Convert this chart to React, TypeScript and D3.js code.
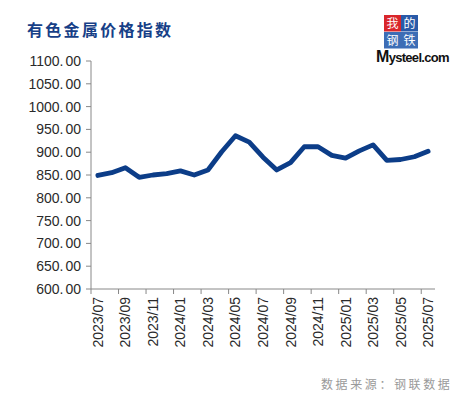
import React from 'react';
import { scaleBand, scaleLinear, line, format } from 'd3';

const months = [
  '2023/07', '2023/08', '2023/09', '2023/10', '2023/11', '2023/12',
  '2024/01', '2024/02', '2024/03', '2024/04', '2024/05', '2024/06',
  '2024/07', '2024/08', '2024/09', '2024/10', '2024/11', '2024/12',
  '2025/01', '2025/02', '2025/03', '2025/04', '2025/05', '2025/06', '2025/07',
];
const indexValues = [
  849, 855, 866, 845, 850, 853, 859, 850, 861, 901, 936, 922,
  889, 861, 877, 912, 912, 893, 887, 903, 916, 882, 884, 890, 902,
];
const yTicks = [600, 650, 700, 750, 800, 850, 900, 950, 1000, 1050, 1100];

const title = '有色金属价格指数';
const source = '数据来源：钢联数据';
const logoChars = ['我', '的', '钢', '铁'];

const W = 465;
const H = 397;
const left = 91;
const right = 435;
const top = 61;
const bottom = 289;

const App = () => {
  const x = scaleBand().domain(months).range([left, right]).padding(0);
  const y = scaleLinear().domain([600, 1100]).range([bottom, top]);
  const fmt = format('.2f');

  const path = line<number>()
    .x((d, i) => (x(months[i]) ?? 0) + x.bandwidth() / 2)
    .y((d) => y(d))(indexValues);

  const shown = months.filter((m, i) => i % 2 === 0);

  return (
    <svg width={W} height={H} style={styles.svg}>
      <rect width={W} height={H} fill="#fff" />
      <text x={27} y={36} fontSize={16} fontWeight="bold" fill="#173f87"
        letterSpacing={2.3} fontFamily="'Noto Sans CJK SC', sans-serif">{title}</text>

      {/* logo */}
      <g fontFamily="'Noto Sans CJK SC', serif" fontSize={12} fill="#fff" textAnchor="middle">
        {logoChars.map((c, i) => {
          const lx = 384 + (i % 2) * 17;
          const ly = 15 + Math.floor(i / 2) * 17;
          return (
            <g key={c}>
              <rect x={lx} y={ly} width={17} height={16.5} fill={i === 0 ? '#d9262b' : i === 1 ? '#2a5aa8' : '#3d6db5'} />
              <text x={lx + 8.5} y={ly + 12.5}>{c}</text>
            </g>
          );
        })}
        <text x={376} y={62} textAnchor="start" fill="#111" fontFamily="'Liberation Sans', Arial, sans-serif"
          fontWeight="bold" letterSpacing={-0.7}>
          <tspan fontSize={16}>M</tspan><tspan fontSize={13}>ysteel.com</tspan>
        </text>
      </g>

      {/* y axis */}
      <line x1={left} x2={left} y1={top} y2={bottom} stroke="#888" />
      {yTicks.map((t) => (
        <g key={t}>
          <line x1={left - 5} x2={left} y1={y(t)} y2={y(t)} stroke="#888" />
          <text x={81} y={y(t) + 5} textAnchor="end" fontSize={14} fill="#2a2a2a"
            fontFamily="'Liberation Sans', Arial, sans-serif">
            {fmt(t).split('.')[0]}.<tspan dx={2}>{fmt(t).split('.')[1]}</tspan>
          </text>
        </g>
      ))}

      {/* x axis */}
      <line x1={left} x2={right} y1={bottom} y2={bottom} stroke="#888" />
      {shown.map((m) => {
        const bx = x(m) ?? 0;
        const cx = bx + x.bandwidth() / 2;
        return (
          <g key={m}>
            <line x1={bx} x2={bx} y1={bottom} y2={bottom + 5} stroke="#888" />
            <text transform={`translate(${cx + 5},${bottom + 8}) rotate(-90)`} textAnchor="end"
              fontSize={14} fill="#2a2a2a" fontFamily="'Liberation Sans', Arial, sans-serif">{m}</text>
          </g>
        );
      })}

      <path d={path ?? ''} fill="none" stroke="#0c3d88" strokeWidth={4.8}
        strokeLinejoin="round" strokeLinecap="round" />

      <text x={321} y={389} fontSize={12} fill="#9a9a9a" letterSpacing={2.6}
        fontFamily="'Noto Sans CJK SC', sans-serif">{source}</text>
    </svg>
  );
};

export default App;

const styles = {
  svg: {
    position: 'absolute' as const,
    left: 0,
    top: 0,
    display: 'block',
  },
};
